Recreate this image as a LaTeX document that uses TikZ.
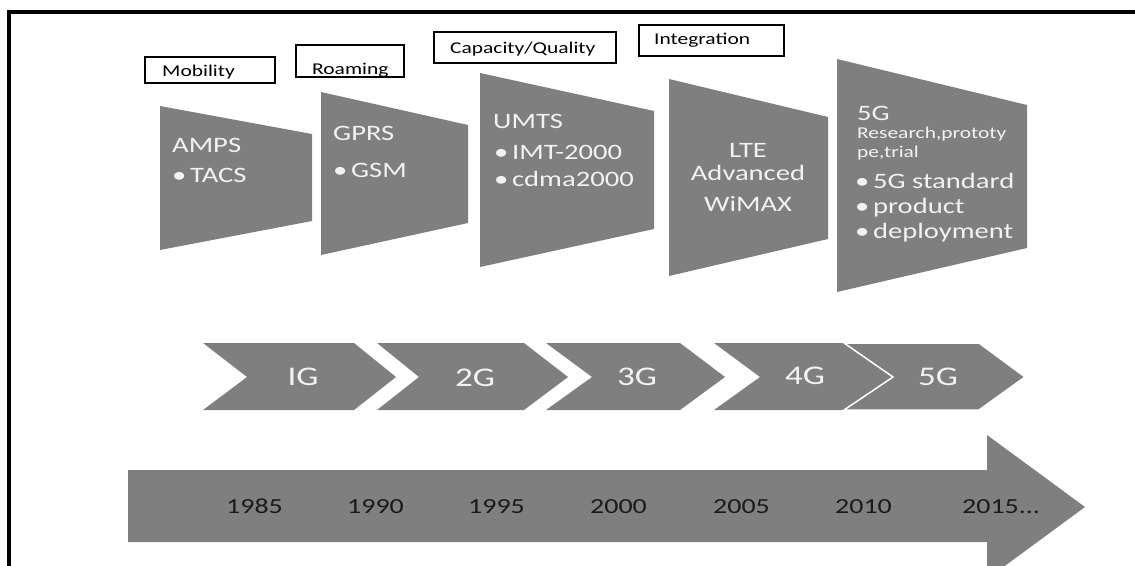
\documentclass[tikz,border=0pt]{standalone}
\usepackage{fontspec}
\setmainfont{Carlito}[FakeStretch=1.3]
\definecolor{shapegray}{RGB}{127,127,127}
\definecolor{lighttext}{RGB}{242,242,242}
\definecolor{darktext}{RGB}{26,26,26}
\tikzset{
  shp/.style={fill=shapegray},
  lblbox/.style={draw=black, line width=1.3pt, fill=white},
  lbltext/.style={anchor=base west, inner sep=0pt, font=\fontsize{16.5}{18}\selectfont},
  intext/.style={anchor=base west, inner sep=0pt, text=lighttext, font=\fontsize{22}{24}\selectfont},
  smalltext/.style={intext, font=\fontsize{16.5}{18}\selectfont},
  chevtext/.style={inner sep=0pt, text=lighttext, font=\fontsize{27}{30}\selectfont},
  yeartext/.style={anchor=base west, inner sep=0pt, text=darktext, font=\fontsize{21.5}{24}\selectfont}
}

\begin{document}
\begin{tikzpicture}[x=1pt,y=-1pt]
            \useasboundingbox (0,0) rectangle (1135,565);
            \draw[line width=4pt] (9,570) -- (9,12) -- (1140,12);
            % feature boxes
            \draw[lblbox] (145,57) rectangle (275,83);
            \node (mob) at (162,76)[lbltext]{Mobility};
            \draw[lblbox] (296,45) rectangle (404,77);
            \node (roam) at (312,74)[lbltext]{Roaming};
            \draw[lblbox] (434,32) rectangle (616,63);
            \node (capq) at (450,53)[lbltext]{Capacity/Quality};
            \draw[lblbox] (639,25) rectangle (784,56);
            \node (integ) at (654,44)[lbltext]{Integration};
            % technology blocks
            \fill[shp] (160,106) -- (312,134) -- (312,221) -- (160,250) -- cycle;
            \fill[shp] (321,92) -- (468,125) -- (468,223) -- (321,255) -- cycle;
            \fill[shp] (480,73) -- (654,111) -- (654,229) -- (480,267) -- cycle;
            \fill[shp] (669,79) -- (828,117) -- (828,239) -- (669,276) -- cycle;
            \fill[shp] (837,59) -- (1027,105) -- (1027,248) -- (837,292) -- cycle;
            \node (amps) at (172,152)[intext]{AMPS};
            \node (tacs) at (172,182)[intext]{\textbullet\,TACS};
            \node (gprs) at (333,140)[intext]{GPRS};
            \node (gsm) at (333,177)[intext]{\textbullet\,GSM};
            \node (umts) at (493,128)[intext]{UMTS};
            \node (imt) at (494,159)[intext]{\textbullet\,IMT-2000};
            \node (cdma) at (494,186)[intext]{\textbullet\,cdma2000};
            \node (lte) at (748,157)[intext, anchor=base]{LTE};
            \node (adv) at (748,180)[intext, anchor=base]{Advanced};
            \node (wimax) at (748,211)[intext, anchor=base]{WiMAX};
            \node (fiveg) at (857,120)[intext]{5G};
            \node (rpt) at (857,138)[smalltext]{Research,prototy};
            \node (trial) at (857,157)[smalltext]{pe,trial};
            \node (std) at (855,188)[intext]{\textbullet\,5G standard};
            \node (prod) at (855,213)[intext]{\textbullet\,product};
            \node (depl) at (855,238)[intext]{\textbullet\,deployment};
            % generations
            \fill[shp] (203,343) -- (354,343) -- (396,377) -- (354,410) -- (203,410) -- (247,377) -- cycle;
            \fill[shp] (377,343) -- (524,343) -- (568,377) -- (524,410) -- (377,410) -- (419,377) -- cycle;
            \fill[shp] (546,343) -- (680,343) -- (725,377) -- (680,410) -- (546,410) -- (592,377) -- cycle;
            \fill[shp] (714,343) -- (844,343) -- (893,377) -- (844,410) -- (714,410) -- (760,377) -- cycle;
            \filldraw[shp, draw=white, line width=1.5pt] (844,343) -- (979,343) -- (1025,377) -- (979,410) -- (844,410) -- (893,377) -- cycle;
            \node (g1) at (303,377)[chevtext]{IG};
            \node (g2) at (475,378)[chevtext]{2G};
            \node (g3) at (637,377)[chevtext]{3G};
            \node (g4) at (805,376)[chevtext]{4G};
            \node (g5) at (938,377)[chevtext]{5G};
            % time line
            \fill[shp] (128,470) -- (987,470) -- (987,435) -- (1085,507) -- (987,579) -- (987,542) -- (128,542) -- cycle;
            \node (y85) at (226,513)[yeartext]{1985};
            \node (y90) at (347,513)[yeartext]{1990};
            \node (y95) at (468,513)[yeartext]{1995};
            \node (y00) at (590,513)[yeartext]{2000};
            \node (y05) at (713,513)[yeartext]{2005};
            \node (y10) at (835,513)[yeartext]{2010};
            \node (y15) at (962,513)[yeartext]{2015...};
        \end{tikzpicture}
\end{document}
